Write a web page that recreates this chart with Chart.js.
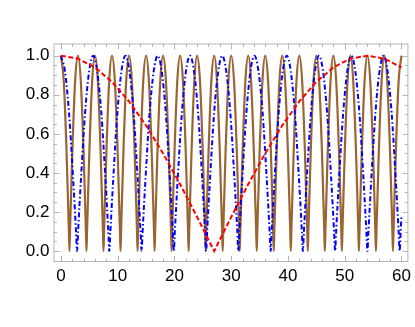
<!DOCTYPE html>
<html>
<head>
<meta charset="utf-8">
<script src="https://cdn.jsdelivr.net/npm/chart.js@4"></script>
<style>
  html, body { margin: 0; padding: 0; background: #fff; }
  #wrap { width: 415px; height: 327px; }
</style>
</head>
<body>
<div id="wrap"><canvas id="plot" width="415" height="327"></canvas></div>
<script>
// Values.
// Red dashed curve (slow), sampled every 3 units.
const redX = [0, 3, 6, 9, 12, 15, 18, 21, 24, 27, 30, 33, 36, 39, 42, 45, 48, 51, 54, 57, 60];
const redY = [1, 0.985, 0.94, 0.866, 0.766, 0.643, 0.5, 0.342, 0.174, 0,
              0.174, 0.342, 0.5, 0.643, 0.766, 0.866, 0.94, 0.985, 1, 0.985, 0.94];

// Blue dot-dashed curve, one row per period.
const blueX = [
  0, 0.71, 1.42, 2.13, 2.66, 2.84, 3.02, 3.55, 4.26, 4.97,
  5.68, 6.39, 7.11, 7.82, 8.35, 8.53, 8.71, 9.24, 9.95, 10.66,
  11.37, 12.08, 12.79, 13.5, 14.03, 14.21, 14.39, 14.92, 15.63, 16.34,
  17.05, 17.76, 18.47, 19.18, 19.71, 19.89, 20.07, 20.6, 21.32, 22.03,
  22.74, 23.45, 24.16, 24.87, 25.4, 25.58, 25.76, 26.29, 27.0, 27.71,
  28.42, 29.13, 29.84, 30.55, 31.08, 31.26, 31.44, 31.97, 32.68, 33.39,
  34.1, 34.81, 35.53, 36.24, 36.77, 36.95, 37.13, 37.66, 38.37, 39.08,
  39.79, 40.5, 41.21, 41.92, 42.45, 42.63, 42.81, 43.34, 44.05, 44.76,
  45.47, 46.18, 46.89, 47.6, 48.13, 48.31, 48.49, 49.02, 49.74, 50.45,
  51.16, 51.87, 52.58, 53.29, 53.82, 54.0, 54.18, 54.71, 55.42, 56.13,
  56.84, 57.55, 58.26, 58.97, 59.5, 59.68, 59.86, 60
];
const blueY = [
  1, 0.92, 0.71, 0.38, 0.1, 0, 0.1, 0.38, 0.71, 0.92,
  1, 0.92, 0.71, 0.38, 0.1, 0, 0.1, 0.38, 0.71, 0.92,
  1, 0.92, 0.71, 0.38, 0.1, 0, 0.1, 0.38, 0.71, 0.92,
  1, 0.92, 0.71, 0.38, 0.1, 0, 0.1, 0.38, 0.71, 0.92,
  1, 0.92, 0.71, 0.38, 0.1, 0, 0.1, 0.38, 0.71, 0.92,
  1, 0.92, 0.71, 0.38, 0.1, 0, 0.1, 0.38, 0.71, 0.92,
  1, 0.92, 0.71, 0.38, 0.1, 0, 0.1, 0.38, 0.71, 0.92,
  1, 0.92, 0.71, 0.38, 0.1, 0, 0.1, 0.38, 0.71, 0.92,
  1, 0.92, 0.71, 0.38, 0.1, 0, 0.1, 0.38, 0.71, 0.92,
  1, 0.92, 0.71, 0.38, 0.1, 0, 0.1, 0.38, 0.71, 0.92,
  1, 0.92, 0.71, 0.38, 0.1, 0, 0.1, 0.18
];

// Brown solid curve (fast), one row per period of 3.
const brownX = [
  0, 0.5, 1, 1.4, 1.5, 1.6, 2, 2.5,
  3, 3.5, 4, 4.4, 4.5, 4.6, 5, 5.5,
  6, 6.5, 7, 7.4, 7.5, 7.6, 8, 8.5,
  9, 9.5, 10, 10.4, 10.5, 10.6, 11, 11.5,
  12, 12.5, 13, 13.4, 13.5, 13.6, 14, 14.5,
  15, 15.5, 16, 16.4, 16.5, 16.6, 17, 17.5,
  18, 18.5, 19, 19.4, 19.5, 19.6, 20, 20.5,
  21, 21.5, 22, 22.4, 22.5, 22.6, 23, 23.5,
  24, 24.5, 25, 25.4, 25.5, 25.6, 26, 26.5,
  27, 27.5, 28, 28.4, 28.5, 28.6, 29, 29.5,
  30, 30.5, 31, 31.4, 31.5, 31.6, 32, 32.5,
  33, 33.5, 34, 34.4, 34.5, 34.6, 35, 35.5,
  36, 36.5, 37, 37.4, 37.5, 37.6, 38, 38.5,
  39, 39.5, 40, 40.4, 40.5, 40.6, 41, 41.5,
  42, 42.5, 43, 43.4, 43.5, 43.6, 44, 44.5,
  45, 45.5, 46, 46.4, 46.5, 46.6, 47, 47.5,
  48, 48.5, 49, 49.4, 49.5, 49.6, 50, 50.5,
  51, 51.5, 52, 52.4, 52.5, 52.6, 53, 53.5,
  54, 54.5, 55, 55.4, 55.5, 55.6, 56, 56.5,
  57, 57.5, 58, 58.4, 58.5, 58.6, 59, 59.5,
  60
];
const brownY = [
  1, 0.87, 0.5, 0.1, 0, 0.1, 0.5, 0.87,
  1, 0.87, 0.5, 0.1, 0, 0.1, 0.5, 0.87,
  1, 0.87, 0.5, 0.1, 0, 0.1, 0.5, 0.87,
  1, 0.87, 0.5, 0.1, 0, 0.1, 0.5, 0.87,
  1, 0.87, 0.5, 0.1, 0, 0.1, 0.5, 0.87,
  1, 0.87, 0.5, 0.1, 0, 0.1, 0.5, 0.87,
  1, 0.87, 0.5, 0.1, 0, 0.1, 0.5, 0.87,
  1, 0.87, 0.5, 0.1, 0, 0.1, 0.5, 0.87,
  1, 0.87, 0.5, 0.1, 0, 0.1, 0.5, 0.87,
  1, 0.87, 0.5, 0.1, 0, 0.1, 0.5, 0.87,
  1, 0.87, 0.5, 0.1, 0, 0.1, 0.5, 0.87,
  1, 0.87, 0.5, 0.1, 0, 0.1, 0.5, 0.87,
  1, 0.87, 0.5, 0.1, 0, 0.1, 0.5, 0.87,
  1, 0.87, 0.5, 0.1, 0, 0.1, 0.5, 0.87,
  1, 0.87, 0.5, 0.1, 0, 0.1, 0.5, 0.87,
  1, 0.87, 0.5, 0.1, 0, 0.1, 0.5, 0.87,
  1, 0.87, 0.5, 0.1, 0, 0.1, 0.5, 0.87,
  1, 0.87, 0.5, 0.1, 0, 0.1, 0.5, 0.87,
  1, 0.87, 0.5, 0.1, 0, 0.1, 0.5, 0.87,
  1, 0.87, 0.5, 0.1, 0, 0.1, 0.5, 0.87,
  1
];

// Tick labels
const xTicks = [0, 10, 20, 30, 40, 50, 60];
const yTicks = [0, 0.2, 0.4, 0.6, 0.8, 1.0];

const FRAME = '#b5b5b5';

function toPoints(xs, ys) {
  return xs.map((x, i) => ({ x: x, y: ys[i] }));
}

// Mathematica-style frame: box on all four sides, ticks pointing inward
const framePlugin = {
  id: 'frame',
  beforeDatasetsDraw(chart) {
    const { ctx, chartArea: a, scales: { x, y } } = chart;
    ctx.save();
    ctx.strokeStyle = FRAME;
    ctx.lineWidth = 1;
    ctx.strokeRect(a.left + 0.5, a.top + 0.5, a.right - a.left - 1, a.bottom - a.top - 1);

    const tick = (px, py, dx, dy) => {
      ctx.beginPath();
      ctx.moveTo(px, py);
      ctx.lineTo(px + dx, py + dy);
      ctx.stroke();
    };

    // x ticks, 4 minor between majors
    for (let i = 0; i < xTicks.length; i++) {
      const v = xTicks[i];
      const px = Math.round(x.getPixelForValue(v)) + 0.5;
      tick(px, a.bottom, 0, -6);
      tick(px, a.top, 0, 6);
      if (i < xTicks.length - 1) {
        const step = (xTicks[i + 1] - v) / 5;
        for (let k = 1; k < 5; k++) {
          const mx = Math.round(x.getPixelForValue(v + k * step)) + 0.5;
          tick(mx, a.bottom, 0, -3.5);
          tick(mx, a.top, 0, 3.5);
        }
      }
    }

    // y ticks, 3 minor between majors
    for (let i = 0; i < yTicks.length; i++) {
      const v = yTicks[i];
      const py = Math.round(y.getPixelForValue(v)) + 0.5;
      tick(a.left, py, 6, 0);
      tick(a.right, py, -6, 0);
      if (i < yTicks.length - 1) {
        const step = (yTicks[i + 1] - v) / 4;
        for (let k = 1; k < 4; k++) {
          const my = Math.round(y.getPixelForValue(v + k * step)) + 0.5;
          tick(a.left, my, 3.5, 0);
          tick(a.right, my, -3.5, 0);
        }
      }
    }
    ctx.restore();
  }
};

const tickFont = { family: '"Liberation Sans", Arial, sans-serif', size: 17 };

new Chart(document.getElementById('plot'), {
  type: 'line',
  data: {
    datasets: [
      {
        // first dataset is drawn on top
        data: toPoints(redX, redY),
        borderColor: '#ff0000',
        borderWidth: 2,
        borderDash: [5, 2.5],
        tension: 0
      },
      {
        data: toPoints(blueX, blueY),
        borderColor: '#0000ff',
        borderWidth: 2,
        borderDash: [5, 2.5, 1.5, 2.5],
        cubicInterpolationMode: 'monotone'
      },
      {
        data: toPoints(brownX, brownY),
        borderColor: '#996633',
        borderWidth: 2.2,
        cubicInterpolationMode: 'monotone'
      }
    ]
  },
  options: {
    responsive: false,
    animation: false,
    events: [],
    layout: { padding: { left: 0, top: 43.5, right: 4, bottom: 0 } },
    elements: { point: { radius: 0 } },
    plugins: { legend: { display: false }, tooltip: { enabled: false } },
    scales: {
      x: {
        type: 'linear',
        min: -1.31,
        max: 61.22,
        border: { display: false },
        grid: { display: false, drawTicks: false },
        afterBuildTicks: s => { s.ticks = xTicks.map(v => ({ value: v })); },
        afterFit: s => { s.height = 65; },
        ticks: { color: '#000', font: tickFont, padding: 4, maxRotation: 0, autoSkip: false }
      },
      y: {
        type: 'linear',
        min: -0.056,
        max: 1.0625,
        border: { display: false },
        grid: { display: false, drawTicks: false },
        afterBuildTicks: s => { s.ticks = yTicks.map(v => ({ value: v })); },
        afterFit: s => { s.width = 53.5; },
        ticks: {
          color: '#000', font: tickFont, padding: 4, autoSkip: false,
          callback: v => v.toFixed(1)
        }
      }
    }
  },
  plugins: [framePlugin]
});
</script>
</body>
</html>
